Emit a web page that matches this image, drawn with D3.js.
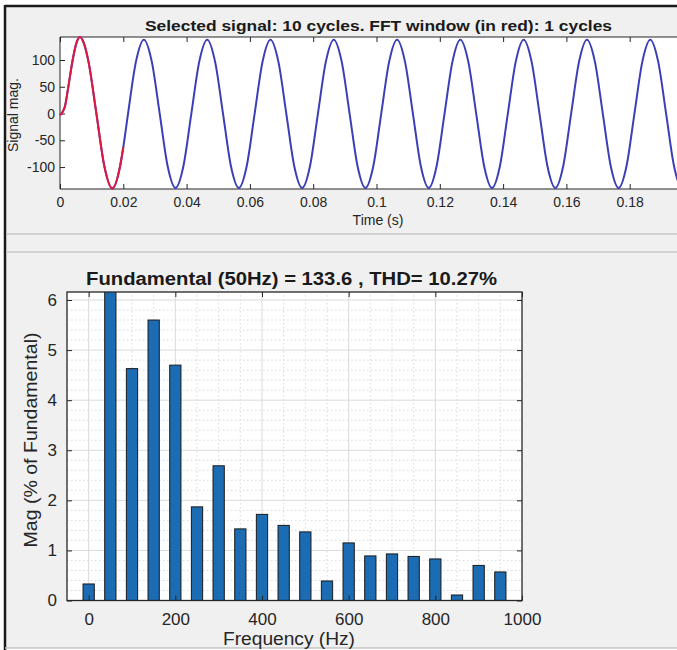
<!DOCTYPE html>
<html><head><meta charset="utf-8">
<script src="https://cdn.jsdelivr.net/npm/d3@7"></script>
<style>
html,body{margin:0;padding:0;background:#fff;}
svg{display:block;font-family:"Liberation Sans",Arial,sans-serif;}
</style></head><body>
<svg id="c" width="677" height="650"></svg>
<script>
// ---------- DATA ----------
const sigTime = [0, 0.0008, 0.0016, 0.0025, 0.004, 0.0052, 0.0063, 0.0075, 0.009, 0.0115, 0.014, 0.0165, 0.019, 0.02,
  0.0215, 0.024, 0.0265, 0.029, 0.0315, 0.034, 0.0365, 0.039,
  0.0415, 0.044, 0.0465, 0.049, 0.0515, 0.054, 0.0565, 0.059,
  0.0615, 0.064, 0.0665, 0.069, 0.0715, 0.074, 0.0765, 0.079,
  0.0815, 0.084, 0.0865, 0.089, 0.0915, 0.094, 0.0965, 0.099,
  0.1015, 0.104, 0.1065, 0.109, 0.1115, 0.114, 0.1165, 0.119,
  0.1215, 0.124, 0.1265, 0.129, 0.1315, 0.134, 0.1365, 0.139,
  0.1415, 0.144, 0.1465, 0.149, 0.1515, 0.154, 0.1565, 0.159,
  0.1615, 0.164, 0.1665, 0.169, 0.1715, 0.174, 0.1765, 0.179,
  0.1815, 0.184, 0.1865, 0.189, 0.1915, 0.194, 0.1965, 0.199,
  0.2];
const sigMag = [-3, 3, 14, 45, 100, 132, 143, 132, 97, 0, -98, -140, -98, -63,
  0, 97, 138, 97, 0, -98, -139, -98,
  0, 97, 138, 97, 0, -98, -139, -98,
  0, 97, 138, 97, 0, -98, -139, -98,
  0, 97, 138, 97, 0, -98, -139, -98,
  0, 97, 138, 97, 0, -98, -139, -98,
  0, 97, 138, 97, 0, -98, -139, -98,
  0, 97, 138, 97, 0, -98, -139, -98,
  0, 97, 138, 97, 0, -98, -139, -98,
  0, 97, 138, 97, 0, -98, -139, -98,
  -63];
const fftWindowEnd = 0.02;
const timeTicks = [0, 0.02, 0.04, 0.06, 0.08, 0.1, 0.12, 0.14, 0.16, 0.18];
const sigTicks = [-100, -50, 0, 50, 100];

const harmFreq = [0, 50, 100, 150, 200, 250, 300, 350, 400, 450, 500, 550, 600, 650, 700, 750, 800, 850, 900, 950];
const harmMag  = [0.33, 100, 4.63, 5.6, 4.7, 1.87, 2.69, 1.43, 1.72, 1.5, 1.37, 0.39, 1.15, 0.89, 0.93, 0.88, 0.83, 0.11, 0.70, 0.57];
const freqTicks = [0, 200, 400, 600, 800, 1000];
const magTicks = [0, 1, 2, 3, 4, 5, 6];

const topTitle = "Selected signal: 10 cycles. FFT window (in red): 1 cycles";
const botTitle = "Fundamental (50Hz) = 133.6 , THD= 10.27%";

// ---------- DRAW ----------
const svg = d3.select("#c");
const txt = "#262626";
const plain = d => String(d);   // MATLAB-style labels with ASCII hyphen

// frame
svg.append("rect").attr("x",5).attr("y",6).attr("width",672).attr("height",642).attr("fill","#f0f0f0");
svg.append("line").attr("x1",5).attr("x2",677).attr("y1",6).attr("y2",6).attr("stroke","#1a1a1a").attr("stroke-width",2.5);
svg.append("line").attr("x1",5).attr("x2",5).attr("y1",5).attr("y2",650).attr("stroke","#1a1a1a").attr("stroke-width",2.5);
svg.append("line").attr("x1",5).attr("x2",677).attr("y1",648).attr("y2",648).attr("stroke","#c4c4c4").attr("stroke-width",1.5);
[234, 252].forEach(y => svg.append("line").attr("x1",6).attr("x2",677).attr("y1",y).attr("y2",y).attr("stroke","#c8c8c8").attr("stroke-width",1.5));

// ---- top signal plot ----
const tx = d3.scaleLinear().domain([0, 0.2]).range([60, 693]);
const ty = d3.scaleLinear().domain([-141, 143]).range([189, 37]);
const g1 = svg.append("g");
g1.append("rect").attr("x",tx(0)).attr("y",ty(143)).attr("width",tx(0.2)-tx(0)).attr("height",ty(-141)-ty(143)).attr("fill","#fff");

const axB1 = g1.append("g").attr("transform",`translate(0,${ty(-141)})`)
  .call(d3.axisBottom(tx).tickValues(timeTicks).tickFormat(plain).tickSize(-5).tickSizeOuter(0).tickPadding(8));
const axT1 = g1.append("g").attr("transform",`translate(0,${ty(143)})`)
  .call(d3.axisTop(tx).tickValues(timeTicks).tickFormat("").tickSize(-5).tickSizeOuter(0));
const axL1 = g1.append("g").attr("transform",`translate(${tx(0)},0)`)
  .call(d3.axisLeft(ty).tickValues(sigTicks).tickFormat(plain).tickSize(-5).tickSizeOuter(0).tickPadding(5));
[axB1, axT1, axL1].forEach(a => {
  a.select(".domain").remove();
  a.selectAll("line").attr("stroke", txt);
  a.selectAll("text").attr("fill", txt).style("font-size","14px").style("font-family","'Liberation Sans',Arial,sans-serif");
});
// box
g1.append("path").attr("d",`M${tx(0.2)},${ty(143)}H${tx(0)}V${ty(-141)}H${tx(0.2)}`).attr("fill","none").attr("stroke",txt).attr("stroke-width",1);

const sig = sigTime.map((t,i)=>({t, v:sigMag[i]}));
const line = d3.line().x(d=>tx(d.t)).y(d=>ty(d.v)).curve(d3.curveMonotoneX);
g1.append("path").datum(sig).attr("d",line).attr("fill","none").attr("stroke","#3b3fb6").attr("stroke-width",2);
g1.append("path").datum(sig.filter(d=>d.t<=fftWindowEnd)).attr("d",line).attr("fill","none").attr("stroke","#e0183f").attr("stroke-width",2);

g1.append("text").attr("x",378.5).attr("y",30.5).attr("text-anchor","middle").attr("font-weight","bold").attr("font-size",15.5)
  .attr("fill","#1a1a1a").attr("textLength",467).attr("lengthAdjust","spacingAndGlyphs").text(topTitle);
g1.append("text").attr("x",378).attr("y",224.5).attr("text-anchor","middle").attr("font-size",14).attr("fill",txt).text("Time (s)");
g1.append("text").attr("transform","translate(18,115) rotate(-90)").attr("text-anchor","middle").attr("font-size",14).attr("fill",txt).text("Signal mag.");

// ---- bottom FFT plot ----
const fx = d3.scaleLinear().domain([-50, 1000]).range([67, 522]);
const fy = d3.scaleLinear().domain([0, 6.16]).range([600.5, 292]);
const g2 = svg.append("g");
g2.append("rect").attr("x",fx(-50)).attr("y",fy(6.16)).attr("width",fx(1000)-fx(-50)).attr("height",fy(0)-fy(6.16)).attr("fill","#fff");
g2.append("clipPath").attr("id","clipF").append("rect").attr("x",fx(-50)).attr("y",fy(6.16)).attr("width",fx(1000)-fx(-50)).attr("height",fy(0)-fy(6.16));

// minor grid
const minorX = d3.range(-50, 1000, 50).filter(v => v % 200 !== 0 && v > -50);
const minorY = d3.range(0.2, 6.16, 0.2).filter(v => Math.abs(v - Math.round(v)) > 1e-6);
g2.append("g").selectAll("line").data(minorX).join("line")
  .attr("x1",d=>fx(d)).attr("x2",d=>fx(d)).attr("y1",fy(0)).attr("y2",fy(6.16))
  .attr("stroke","#cfcfcf").attr("stroke-width",0.8).attr("stroke-dasharray","1.5,2.5");
g2.append("g").selectAll("line").data(minorY).join("line")
  .attr("x1",fx(-50)).attr("x2",fx(1000)).attr("y1",d=>fy(d)).attr("y2",d=>fy(d))
  .attr("stroke","#cfcfcf").attr("stroke-width",0.8).attr("stroke-dasharray","1.5,2.5");
// major grid
g2.append("g").selectAll("line").data(freqTicks.slice(0,-1)).join("line")
  .attr("x1",d=>fx(d)).attr("x2",d=>fx(d)).attr("y1",fy(0)).attr("y2",fy(6.16))
  .attr("stroke","#dadada").attr("stroke-width",1);
g2.append("g").selectAll("line").data(magTicks.slice(1)).join("line")
  .attr("x1",fx(-50)).attr("x2",fx(1000)).attr("y1",d=>fy(d)).attr("y2",d=>fy(d))
  .attr("stroke","#dadada").attr("stroke-width",1);

// bars
const bw = 26;
g2.append("g").attr("clip-path","url(#clipF)").selectAll("rect").data(harmFreq.map((f,i)=>({f, v:harmMag[i]}))).join("rect")
  .attr("x",d=>fx(d.f - bw/2)).attr("width",d=>fx(d.f + bw/2)-fx(d.f - bw/2))
  .attr("y",d=>fy(d.v)).attr("height",d=>fy(0)-fy(d.v))
  .attr("fill","#1c6cb3").attr("stroke","#1a1a1a").attr("stroke-width",1);

const axB2 = g2.append("g").attr("transform",`translate(0,${fy(0)})`)
  .call(d3.axisBottom(fx).tickValues(freqTicks).tickFormat(plain).tickSize(-5).tickSizeOuter(0).tickPadding(12));
const axT2 = g2.append("g").attr("transform",`translate(0,${fy(6.16)})`)
  .call(d3.axisTop(fx).tickValues(freqTicks).tickFormat("").tickSize(-5).tickSizeOuter(0));
const axL2 = g2.append("g").attr("transform",`translate(${fx(-50)},0)`)
  .call(d3.axisLeft(fy).tickValues(magTicks).tickFormat(plain).tickSize(-5).tickSizeOuter(0).tickPadding(10));
const axR2 = g2.append("g").attr("transform",`translate(${fx(1000)},0)`)
  .call(d3.axisRight(fy).tickValues(magTicks).tickFormat("").tickSize(-5).tickSizeOuter(0));
[axB2, axT2, axL2, axR2].forEach(a => {
  a.select(".domain").remove();
  a.selectAll("line").attr("stroke", txt);
  a.selectAll("text").attr("fill", txt).style("font-size","17px").style("font-family","'Liberation Sans',Arial,sans-serif");
});
g2.append("rect").attr("x",fx(-50)).attr("y",fy(6.16)).attr("width",fx(1000)-fx(-50)).attr("height",fy(0)-fy(6.16))
  .attr("fill","none").attr("stroke",txt).attr("stroke-width",1.3);

g2.append("text").attr("x",291.5).attr("y",285).attr("text-anchor","middle").attr("font-weight","bold").attr("font-size",18)
  .attr("fill","#1a1a1a").attr("textLength",411).attr("lengthAdjust","spacingAndGlyphs").text(botTitle);
g2.append("text").attr("x",289).attr("y",645).attr("text-anchor","middle").attr("font-size",18)
  .attr("fill",txt).attr("textLength",132).attr("lengthAdjust","spacingAndGlyphs").text("Frequency (Hz)");
g2.append("text").attr("transform","translate(37,440) rotate(-90)").attr("text-anchor","middle").attr("font-size",18)
  .attr("fill",txt).attr("textLength",215).attr("lengthAdjust","spacingAndGlyphs").text("Mag (% of Fundamental)");
</script></body></html>
